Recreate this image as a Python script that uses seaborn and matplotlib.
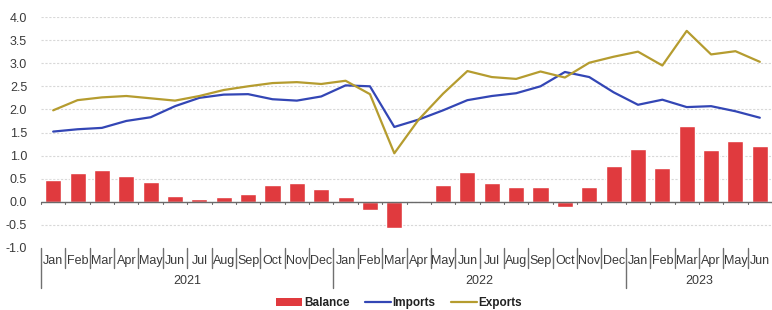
import matplotlib
matplotlib.use("Agg")
import matplotlib.pyplot as plt
import seaborn as sns
import pandas as pd
import numpy as np
from matplotlib.patches import Patch
from matplotlib.lines import Line2D

months = ["Jan", "Feb", "Mar", "Apr", "May", "Jun", "Jul", "Aug", "Sep", "Oct", "Nov", "Dec",
          "Jan", "Feb", "Mar", "Apr", "May", "Jun", "Jul", "Aug", "Sep", "Oct", "Nov", "Dec",
          "Jan", "Feb", "Mar", "Apr", "May", "Jun"]
years = ["2021", "2022", "2023"]
year_counts = [12, 12, 6]

balance = [0.47, 0.63, 0.68, 0.55, 0.42, 0.13, 0.05, 0.11, 0.17, 0.36, 0.41, 0.27,
           0.11, -0.17, -0.57, 0.00, 0.36, 0.65, 0.41, 0.31, 0.33, -0.11, 0.33, 0.77,
           1.15, 0.74, 1.65, 1.12, 1.31, 1.21]
imports = [1.52, 1.57, 1.60, 1.75, 1.83, 2.07, 2.25, 2.32, 2.33, 2.22, 2.19, 2.28,
           2.52, 2.50, 1.62, 1.78, 1.98, 2.20, 2.29, 2.35, 2.50, 2.81, 2.70, 2.37,
           2.10, 2.21, 2.05, 2.07, 1.96, 1.82]
exports = [1.98, 2.20, 2.26, 2.29, 2.24, 2.19, 2.29, 2.42, 2.50, 2.57, 2.59, 2.55,
           2.62, 2.33, 1.05, 1.78, 2.34, 2.83, 2.70, 2.66, 2.82, 2.69, 3.01, 3.14,
           3.25, 2.95, 3.70, 3.19, 3.26, 3.03]
yticks = [-1.0, -0.5, 0.0, 0.5, 1.0, 1.5, 2.0, 2.5, 3.0, 3.5, 4.0]

RED = "#E03A3E"
BLUE = "#3346B5"
GOLD = "#B59C2F"
TXT = "#3A3A3A"

df = pd.DataFrame({"idx": np.arange(len(months)), "month": months,
                   "Balance": balance, "Imports": imports, "Exports": exports})

sns.set_theme(style="white")
plt.rcParams["font.family"] = ["Liberation Sans", "DejaVu Sans"]

fig = plt.figure(figsize=(7.72, 3.10), dpi=100)
ax = fig.add_axes([41 / 772, 1 - 248 / 310, 731 / 772, 231 / 310])

sns.barplot(data=df, x="idx", y="Balance", color=RED, saturation=1, width=0.66, ax=ax, zorder=3)
sns.lineplot(data=df, x="idx", y="Imports", color=BLUE, lw=1.6, ax=ax, zorder=4)
sns.lineplot(data=df, x="idx", y="Exports", color=GOLD, lw=1.6, ax=ax, zorder=4)

n = len(months)
ax.set_xlim(-0.5, n - 0.5)
ax.set_ylim(yticks[0], yticks[-1])
ax.set_yticks(yticks)
ax.set_yticklabels([f"{v:.1f}" for v in yticks], fontsize=9, color=TXT)
ax.tick_params(axis="y", length=0, pad=10)
ax.set_xticks([])
ax.set_xlabel("")
ax.set_ylabel("")
for s in ax.spines.values():
    s.set_visible(False)

ax.yaxis.grid(True, color="#D8D8D8", lw=0.8, ls=(0, (2, 1.5)), zorder=0)
ax.set_axisbelow(True)
gl = ax.get_ygridlines()
gl[0].set_visible(False)

# zero line with small ticks
ax.axhline(0, color="#6A6A6A", lw=1.0, zorder=5)
for b in np.arange(-0.5, n, 1.0):
    ax.plot([b, b], [0, -0.05], color="#6A6A6A", lw=0.8, zorder=5, clip_on=False)

# category axis below
trans = ax.get_xaxis_transform()
h_ax = 231.0
for i, m in enumerate(months):
    ax.text(i, -13 / h_ax, m, transform=trans, ha="center", va="center", fontsize=9, color=TXT)
bounds = np.cumsum([0] + year_counts) - 0.5
for b in np.arange(-0.5, n - 0.5, 1.0):
    long = np.any(np.isclose(b, bounds))
    y2 = -40 / h_ax if long else -20 / h_ax
    ax.plot([b, b], [0, y2], transform=trans, color="#707070", lw=1.0, clip_on=False)
for k, yr in enumerate(years):
    c = (bounds[k] + bounds[k + 1]) / 2
    ax.text(c, -33 / h_ax, yr, transform=trans, ha="center", va="center", fontsize=9, color=TXT)

handles = [Patch(facecolor=RED, edgecolor="none", label="Balance"),
           Line2D([], [], color=BLUE, lw=1.6, label="Imports"),
           Line2D([], [], color=GOLD, lw=1.6, label="Exports")]
leg = fig.legend(handles=handles, loc="center", bbox_to_anchor=(0.517, 0.022), ncol=3,
                 frameon=False, handlelength=2.2, handleheight=0.6,
                 handletextpad=0.15, columnspacing=1.3, prop={"weight": "bold", "size": 8.5})
for t in leg.get_texts():
    t.set_color("#222222")

fig.savefig("out.png", dpi=100)
